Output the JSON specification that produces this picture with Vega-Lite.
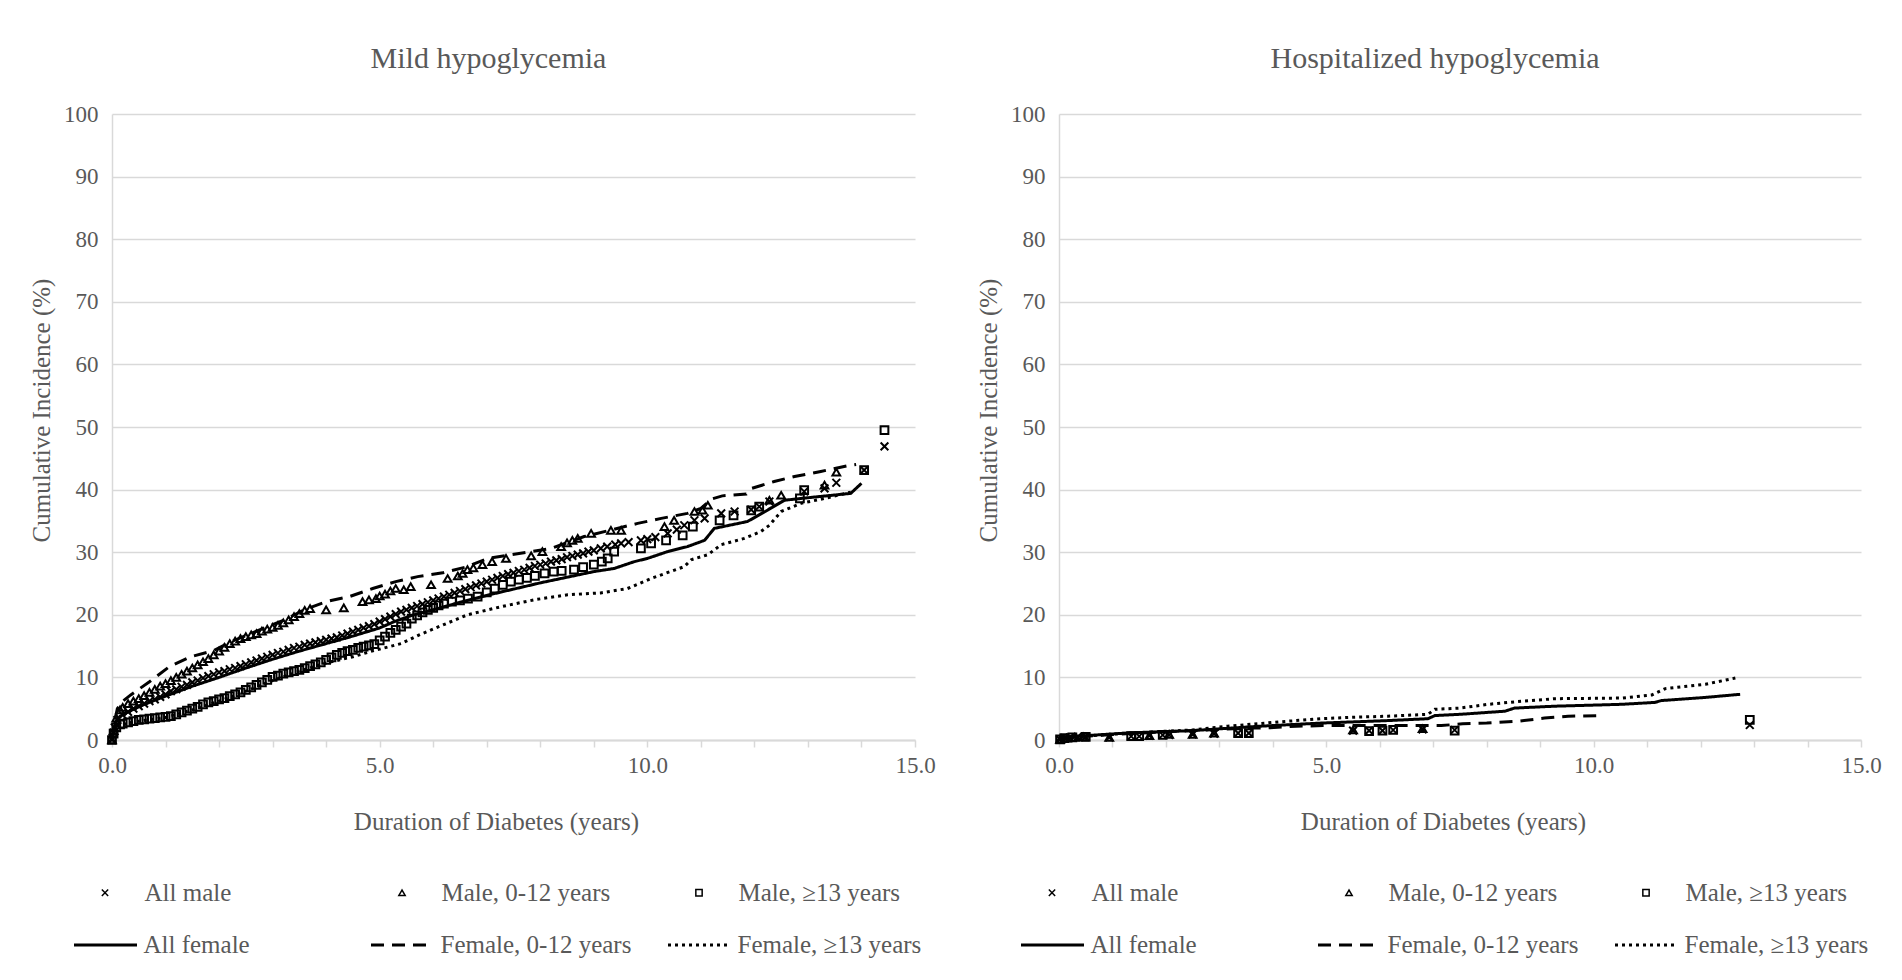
{
  "$schema": "https://vega.github.io/schema/vega-lite/v6.json",
  "background": "white",
  "padding": {"left": 29, "top": 43, "right": 5, "bottom": 0},
  "spacing": 40,
  "resolve": {
    "scale": {"shape": "independent", "strokeDash": "independent"},
    "legend": {"shape": "independent", "strokeDash": "independent"}
  },
  "config": {
    "font": "Liberation Serif",
    "view": {"stroke": null},
    "style": {"guide-label": {"font": "Liberation Serif"}, "guide-title": {"font": "Liberation Serif"}},
    "title": {"font": "Liberation Serif", "fontSize": 30, "fontWeight": "normal", "color": "#595959", "offset": 29.5, "dx": -25},
    "axis": {
      "labelFont": "Liberation Serif", "titleFont": "Liberation Serif",
      "labelColor": "#595959", "titleColor": "#595959", "titleFontWeight": "normal",
      "labelFontSize": 23, "titleFontSize": 25,
      "domainColor": "#d9d9d9", "gridColor": "#d9d9d9", "tickColor": "#d9d9d9"
    },
    "legend": {"labelFont": "Liberation Serif", "labelFontSize": 25, "labelColor": "#595959", "padding": 0, "labelLimit": 400}
  },
  "datasets": {
    "mildMale": [
      {"series":"All male","years":0,"pct":0},{"series":"All male","years":0.03,"pct":1.2},{"series":"All male","years":0.05,"pct":2.0},{"series":"All male","years":0.1,"pct":3.2},{"series":"All male","years":0.2,"pct":4.0},{"series":"All male","years":0.3,"pct":4.5},{"series":"All male","years":0.4,"pct":5.0},{"series":"All male","years":0.5,"pct":5.4},{"series":"All male","years":0.6,"pct":5.8},{"series":"All male","years":0.7,"pct":6.2},{"series":"All male","years":0.8,"pct":6.5},{"series":"All male","years":0.9,"pct":6.9},{"series":"All male","years":1.0,"pct":7.3},{"series":"All male","years":1.1,"pct":7.8},{"series":"All male","years":1.2,"pct":8.1},{"series":"All male","years":1.3,"pct":8.5},{"series":"All male","years":1.4,"pct":8.8},{"series":"All male","years":1.5,"pct":9.2},{"series":"All male","years":1.6,"pct":9.5},{"series":"All male","years":1.7,"pct":9.9},{"series":"All male","years":1.8,"pct":10.2},{"series":"All male","years":1.9,"pct":10.5},{"series":"All male","years":2.0,"pct":10.8},{"series":"All male","years":2.1,"pct":11.0},{"series":"All male","years":2.2,"pct":11.3},{"series":"All male","years":2.3,"pct":11.5},{"series":"All male","years":2.4,"pct":11.8},{"series":"All male","years":2.5,"pct":12.1},{"series":"All male","years":2.6,"pct":12.4},{"series":"All male","years":2.7,"pct":12.7},{"series":"All male","years":2.8,"pct":13.0},{"series":"All male","years":2.9,"pct":13.3},{"series":"All male","years":3.0,"pct":13.6},{"series":"All male","years":3.1,"pct":13.9},{"series":"All male","years":3.2,"pct":14.1},{"series":"All male","years":3.3,"pct":14.4},{"series":"All male","years":3.4,"pct":14.7},{"series":"All male","years":3.5,"pct":14.9},{"series":"All male","years":3.6,"pct":15.2},{"series":"All male","years":3.7,"pct":15.4},{"series":"All male","years":3.8,"pct":15.6},{"series":"All male","years":3.9,"pct":15.8},{"series":"All male","years":4.0,"pct":16.0},{"series":"All male","years":4.1,"pct":16.2},{"series":"All male","years":4.2,"pct":16.4},{"series":"All male","years":4.3,"pct":16.7},{"series":"All male","years":4.4,"pct":17.0},{"series":"All male","years":4.5,"pct":17.3},{"series":"All male","years":4.6,"pct":17.6},{"series":"All male","years":4.7,"pct":17.9},{"series":"All male","years":4.8,"pct":18.2},{"series":"All male","years":4.9,"pct":18.5},{"series":"All male","years":5.0,"pct":18.9},{"series":"All male","years":5.1,"pct":19.3},{"series":"All male","years":5.2,"pct":19.7},{"series":"All male","years":5.3,"pct":20.1},{"series":"All male","years":5.4,"pct":20.5},{"series":"All male","years":5.5,"pct":20.8},{"series":"All male","years":5.6,"pct":21.1},{"series":"All male","years":5.7,"pct":21.4},{"series":"All male","years":5.8,"pct":21.7},{"series":"All male","years":5.9,"pct":22.0},{"series":"All male","years":6.0,"pct":22.3},{"series":"All male","years":6.1,"pct":22.6},{"series":"All male","years":6.2,"pct":22.9},{"series":"All male","years":6.3,"pct":23.2},{"series":"All male","years":6.4,"pct":23.5},{"series":"All male","years":6.5,"pct":23.8},{"series":"All male","years":6.6,"pct":24.1},{"series":"All male","years":6.7,"pct":24.4},{"series":"All male","years":6.8,"pct":24.7},{"series":"All male","years":6.9,"pct":25.0},{"series":"All male","years":7.0,"pct":25.3},{"series":"All male","years":7.1,"pct":25.6},{"series":"All male","years":7.2,"pct":25.9},{"series":"All male","years":7.3,"pct":26.2},{"series":"All male","years":7.4,"pct":26.5},{"series":"All male","years":7.5,"pct":26.7},{"series":"All male","years":7.6,"pct":27.0},{"series":"All male","years":7.7,"pct":27.2},{"series":"All male","years":7.8,"pct":27.5},{"series":"All male","years":7.9,"pct":27.8},{"series":"All male","years":8.0,"pct":28.0},{"series":"All male","years":8.1,"pct":28.2},{"series":"All male","years":8.2,"pct":28.5},{"series":"All male","years":8.3,"pct":28.7},{"series":"All male","years":8.4,"pct":28.9},{"series":"All male","years":8.5,"pct":29.2},{"series":"All male","years":8.6,"pct":29.4},{"series":"All male","years":8.7,"pct":29.6},{"series":"All male","years":8.8,"pct":29.8},{"series":"All male","years":8.9,"pct":30.1},{"series":"All male","years":9.0,"pct":30.3},{"series":"All male","years":9.13,"pct":30.6},{"series":"All male","years":9.25,"pct":30.9},{"series":"All male","years":9.4,"pct":31.2},{"series":"All male","years":9.51,"pct":31.4},{"series":"All male","years":9.65,"pct":31.6},{"series":"All male","years":9.88,"pct":31.9},{"series":"All male","years":10.0,"pct":32.1},{"series":"All male","years":10.15,"pct":32.4},{"series":"All male","years":10.38,"pct":33.0},{"series":"All male","years":10.55,"pct":33.6},{"series":"All male","years":10.69,"pct":34.3},{"series":"All male","years":10.88,"pct":35.1},{"series":"All male","years":11.07,"pct":35.4},{"series":"All male","years":11.38,"pct":36.2},{"series":"All male","years":11.63,"pct":36.5},{"series":"All male","years":11.94,"pct":36.8},{"series":"All male","years":12.09,"pct":37.3},{"series":"All male","years":12.28,"pct":38.1},{"series":"All male","years":12.93,"pct":39.7},{"series":"All male","years":13.31,"pct":40.2},{"series":"All male","years":13.53,"pct":41.1},{"series":"All male","years":14.05,"pct":43.1},{"series":"All male","years":14.43,"pct":46.9},
      {"series":"Male, 0-12 years","years":0,"pct":0},{"series":"Male, 0-12 years","years":0.03,"pct":1.5},{"series":"Male, 0-12 years","years":0.08,"pct":3.5},{"series":"Male, 0-12 years","years":0.15,"pct":4.8},{"series":"Male, 0-12 years","years":0.2,"pct":5.2},{"series":"Male, 0-12 years","years":0.3,"pct":5.8},{"series":"Male, 0-12 years","years":0.4,"pct":6.2},{"series":"Male, 0-12 years","years":0.5,"pct":6.6},{"series":"Male, 0-12 years","years":0.6,"pct":7.1},{"series":"Male, 0-12 years","years":0.7,"pct":7.6},{"series":"Male, 0-12 years","years":0.8,"pct":8.1},{"series":"Male, 0-12 years","years":0.9,"pct":8.6},{"series":"Male, 0-12 years","years":1.0,"pct":9.0},{"series":"Male, 0-12 years","years":1.1,"pct":9.5},{"series":"Male, 0-12 years","years":1.2,"pct":10.0},{"series":"Male, 0-12 years","years":1.3,"pct":10.5},{"series":"Male, 0-12 years","years":1.4,"pct":11.0},{"series":"Male, 0-12 years","years":1.5,"pct":11.5},{"series":"Male, 0-12 years","years":1.6,"pct":12.0},{"series":"Male, 0-12 years","years":1.7,"pct":12.5},{"series":"Male, 0-12 years","years":1.8,"pct":13.0},{"series":"Male, 0-12 years","years":1.9,"pct":13.6},{"series":"Male, 0-12 years","years":2.0,"pct":14.2},{"series":"Male, 0-12 years","years":2.1,"pct":14.8},{"series":"Male, 0-12 years","years":2.2,"pct":15.4},{"series":"Male, 0-12 years","years":2.3,"pct":15.8},{"series":"Male, 0-12 years","years":2.4,"pct":16.2},{"series":"Male, 0-12 years","years":2.5,"pct":16.5},{"series":"Male, 0-12 years","years":2.6,"pct":16.8},{"series":"Male, 0-12 years","years":2.7,"pct":17.0},{"series":"Male, 0-12 years","years":2.8,"pct":17.4},{"series":"Male, 0-12 years","years":2.9,"pct":17.7},{"series":"Male, 0-12 years","years":3.0,"pct":18.0},{"series":"Male, 0-12 years","years":3.1,"pct":18.3},{"series":"Male, 0-12 years","years":3.2,"pct":18.7},{"series":"Male, 0-12 years","years":3.3,"pct":19.2},{"series":"Male, 0-12 years","years":3.4,"pct":19.7},{"series":"Male, 0-12 years","years":3.5,"pct":20.2},{"series":"Male, 0-12 years","years":3.6,"pct":20.7},{"series":"Male, 0-12 years","years":3.7,"pct":21.0},{"series":"Male, 0-12 years","years":4.0,"pct":20.8},{"series":"Male, 0-12 years","years":4.33,"pct":21.1},{"series":"Male, 0-12 years","years":4.68,"pct":22.1},{"series":"Male, 0-12 years","years":4.8,"pct":22.4},{"series":"Male, 0-12 years","years":4.93,"pct":22.6},{"series":"Male, 0-12 years","years":5.0,"pct":23.0},{"series":"Male, 0-12 years","years":5.1,"pct":23.3},{"series":"Male, 0-12 years","years":5.2,"pct":23.8},{"series":"Male, 0-12 years","years":5.3,"pct":24.2},{"series":"Male, 0-12 years","years":5.45,"pct":24.0},{"series":"Male, 0-12 years","years":5.58,"pct":24.5},{"series":"Male, 0-12 years","years":5.96,"pct":24.8},{"series":"Male, 0-12 years","years":6.27,"pct":25.8},{"series":"Male, 0-12 years","years":6.46,"pct":26.2},{"series":"Male, 0-12 years","years":6.55,"pct":26.6},{"series":"Male, 0-12 years","years":6.64,"pct":27.2},{"series":"Male, 0-12 years","years":6.75,"pct":27.5},{"series":"Male, 0-12 years","years":6.92,"pct":28.0},{"series":"Male, 0-12 years","years":7.1,"pct":28.5},{"series":"Male, 0-12 years","years":7.36,"pct":29.0},{"series":"Male, 0-12 years","years":7.83,"pct":29.4},{"series":"Male, 0-12 years","years":8.04,"pct":30.1},{"series":"Male, 0-12 years","years":8.39,"pct":30.9},{"series":"Male, 0-12 years","years":8.5,"pct":31.5},{"series":"Male, 0-12 years","years":8.6,"pct":31.9},{"series":"Male, 0-12 years","years":8.7,"pct":32.2},{"series":"Male, 0-12 years","years":8.95,"pct":33.0},{"series":"Male, 0-12 years","years":9.32,"pct":33.5},{"series":"Male, 0-12 years","years":9.51,"pct":33.5},{"series":"Male, 0-12 years","years":10.32,"pct":34.1},{"series":"Male, 0-12 years","years":10.5,"pct":35.1},{"series":"Male, 0-12 years","years":10.88,"pct":36.5},{"series":"Male, 0-12 years","years":11.03,"pct":36.7},{"series":"Male, 0-12 years","years":11.13,"pct":37.5},{"series":"Male, 0-12 years","years":12.28,"pct":38.3},{"series":"Male, 0-12 years","years":12.5,"pct":39.1},{"series":"Male, 0-12 years","years":13.31,"pct":40.7},{"series":"Male, 0-12 years","years":13.53,"pct":42.8},
      {"series":"Male, ≥13 years","years":0,"pct":0},{"series":"Male, ≥13 years","years":0.03,"pct":1.0},{"series":"Male, ≥13 years","years":0.08,"pct":2.0},{"series":"Male, ≥13 years","years":0.15,"pct":2.5},{"series":"Male, ≥13 years","years":0.2,"pct":2.6},{"series":"Male, ≥13 years","years":0.3,"pct":2.8},{"series":"Male, ≥13 years","years":0.4,"pct":3.0},{"series":"Male, ≥13 years","years":0.5,"pct":3.2},{"series":"Male, ≥13 years","years":0.6,"pct":3.3},{"series":"Male, ≥13 years","years":0.7,"pct":3.4},{"series":"Male, ≥13 years","years":0.8,"pct":3.5},{"series":"Male, ≥13 years","years":0.9,"pct":3.6},{"series":"Male, ≥13 years","years":1.0,"pct":3.7},{"series":"Male, ≥13 years","years":1.1,"pct":3.8},{"series":"Male, ≥13 years","years":1.2,"pct":4.1},{"series":"Male, ≥13 years","years":1.3,"pct":4.4},{"series":"Male, ≥13 years","years":1.4,"pct":4.7},{"series":"Male, ≥13 years","years":1.5,"pct":5.0},{"series":"Male, ≥13 years","years":1.6,"pct":5.3},{"series":"Male, ≥13 years","years":1.7,"pct":5.7},{"series":"Male, ≥13 years","years":1.8,"pct":6.0},{"series":"Male, ≥13 years","years":1.9,"pct":6.2},{"series":"Male, ≥13 years","years":2.0,"pct":6.5},{"series":"Male, ≥13 years","years":2.1,"pct":6.7},{"series":"Male, ≥13 years","years":2.2,"pct":7.0},{"series":"Male, ≥13 years","years":2.3,"pct":7.3},{"series":"Male, ≥13 years","years":2.4,"pct":7.6},{"series":"Male, ≥13 years","years":2.5,"pct":8.0},{"series":"Male, ≥13 years","years":2.6,"pct":8.4},{"series":"Male, ≥13 years","years":2.7,"pct":8.8},{"series":"Male, ≥13 years","years":2.8,"pct":9.2},{"series":"Male, ≥13 years","years":2.9,"pct":9.6},{"series":"Male, ≥13 years","years":3.0,"pct":10.1},{"series":"Male, ≥13 years","years":3.1,"pct":10.3},{"series":"Male, ≥13 years","years":3.2,"pct":10.6},{"series":"Male, ≥13 years","years":3.3,"pct":10.8},{"series":"Male, ≥13 years","years":3.4,"pct":11.0},{"series":"Male, ≥13 years","years":3.5,"pct":11.2},{"series":"Male, ≥13 years","years":3.6,"pct":11.5},{"series":"Male, ≥13 years","years":3.7,"pct":11.8},{"series":"Male, ≥13 years","years":3.8,"pct":12.1},{"series":"Male, ≥13 years","years":3.9,"pct":12.4},{"series":"Male, ≥13 years","years":4.0,"pct":12.8},{"series":"Male, ≥13 years","years":4.1,"pct":13.2},{"series":"Male, ≥13 years","years":4.2,"pct":13.6},{"series":"Male, ≥13 years","years":4.3,"pct":13.9},{"series":"Male, ≥13 years","years":4.4,"pct":14.2},{"series":"Male, ≥13 years","years":4.5,"pct":14.4},{"series":"Male, ≥13 years","years":4.6,"pct":14.7},{"series":"Male, ≥13 years","years":4.7,"pct":14.9},{"series":"Male, ≥13 years","years":4.8,"pct":15.1},{"series":"Male, ≥13 years","years":4.9,"pct":15.3},{"series":"Male, ≥13 years","years":5.0,"pct":15.9},{"series":"Male, ≥13 years","years":5.1,"pct":16.5},{"series":"Male, ≥13 years","years":5.2,"pct":17.1},{"series":"Male, ≥13 years","years":5.3,"pct":17.6},{"series":"Male, ≥13 years","years":5.4,"pct":18.1},{"series":"Male, ≥13 years","years":5.5,"pct":18.6},{"series":"Male, ≥13 years","years":5.6,"pct":19.4},{"series":"Male, ≥13 years","years":5.7,"pct":19.9},{"series":"Male, ≥13 years","years":5.8,"pct":20.4},{"series":"Male, ≥13 years","years":5.9,"pct":20.8},{"series":"Male, ≥13 years","years":6.0,"pct":21.1},{"series":"Male, ≥13 years","years":6.1,"pct":21.5},{"series":"Male, ≥13 years","years":6.2,"pct":21.8},{"series":"Male, ≥13 years","years":6.35,"pct":22.1},{"series":"Male, ≥13 years","years":6.5,"pct":22.3},{"series":"Male, ≥13 years","years":6.65,"pct":22.6},{"series":"Male, ≥13 years","years":6.83,"pct":22.9},{"series":"Male, ≥13 years","years":7.0,"pct":23.6},{"series":"Male, ≥13 years","years":7.15,"pct":24.2},{"series":"Male, ≥13 years","years":7.3,"pct":24.8},{"series":"Male, ≥13 years","years":7.45,"pct":25.3},{"series":"Male, ≥13 years","years":7.6,"pct":25.6},{"series":"Male, ≥13 years","years":7.75,"pct":25.9},{"series":"Male, ≥13 years","years":7.9,"pct":26.2},{"series":"Male, ≥13 years","years":8.08,"pct":26.6},{"series":"Male, ≥13 years","years":8.25,"pct":26.9},{"series":"Male, ≥13 years","years":8.4,"pct":27.0},{"series":"Male, ≥13 years","years":8.63,"pct":27.2},{"series":"Male, ≥13 years","years":8.8,"pct":27.6},{"series":"Male, ≥13 years","years":9.0,"pct":28.0},{"series":"Male, ≥13 years","years":9.15,"pct":28.5},{"series":"Male, ≥13 years","years":9.26,"pct":29.0},{"series":"Male, ≥13 years","years":9.38,"pct":30.1},{"series":"Male, ≥13 years","years":9.88,"pct":30.6},{"series":"Male, ≥13 years","years":10.07,"pct":31.4},{"series":"Male, ≥13 years","years":10.35,"pct":31.9},{"series":"Male, ≥13 years","years":10.66,"pct":32.7},{"series":"Male, ≥13 years","years":10.85,"pct":34.1},{"series":"Male, ≥13 years","years":11.35,"pct":35.1},{"series":"Male, ≥13 years","years":11.61,"pct":35.9},{"series":"Male, ≥13 years","years":11.94,"pct":36.7},{"series":"Male, ≥13 years","years":12.09,"pct":37.3},{"series":"Male, ≥13 years","years":12.85,"pct":38.6},{"series":"Male, ≥13 years","years":12.93,"pct":39.9},{"series":"Male, ≥13 years","years":14.05,"pct":43.1},{"series":"Male, ≥13 years","years":14.43,"pct":49.5}
    ],
    "mildFemale": [
      {"series":"All female","years":0,"pct":0},{"series":"All female","years":0.03,"pct":1.5},{"series":"All female","years":0.08,"pct":3.0},{"series":"All female","years":0.15,"pct":3.8},{"series":"All female","years":0.3,"pct":4.5},{"series":"All female","years":0.5,"pct":5.3},{"series":"All female","years":0.75,"pct":6.2},{"series":"All female","years":1.0,"pct":7.0},{"series":"All female","years":1.5,"pct":8.6},{"series":"All female","years":2.0,"pct":10.0},{"series":"All female","years":2.5,"pct":11.5},{"series":"All female","years":3.0,"pct":12.9},{"series":"All female","years":3.5,"pct":14.2},{"series":"All female","years":4.0,"pct":15.4},{"series":"All female","years":4.5,"pct":16.6},{"series":"All female","years":5.0,"pct":17.9},{"series":"All female","years":5.3,"pct":19.0},{"series":"All female","years":5.6,"pct":19.9},{"series":"All female","years":6.0,"pct":20.8},{"series":"All female","years":6.5,"pct":22.0},{"series":"All female","years":7.0,"pct":23.1},{"series":"All female","years":7.5,"pct":24.1},{"series":"All female","years":8.0,"pct":25.1},{"series":"All female","years":8.5,"pct":26.0},{"series":"All female","years":9.0,"pct":26.9},{"series":"All female","years":9.38,"pct":27.4},{"series":"All female","years":9.76,"pct":28.5},{"series":"All female","years":10.0,"pct":29.0},{"series":"All female","years":10.38,"pct":30.1},{"series":"All female","years":10.75,"pct":30.9},{"series":"All female","years":11.07,"pct":31.9},{"series":"All female","years":11.25,"pct":33.8},{"series":"All female","years":11.87,"pct":34.9},{"series":"All female","years":12.2,"pct":36.5},{"series":"All female","years":12.56,"pct":38.3},{"series":"All female","years":13.0,"pct":38.7},{"series":"All female","years":13.8,"pct":39.4},{"series":"All female","years":14.0,"pct":41.0},
      {"series":"Female, 0-12 years","years":0,"pct":0},{"series":"Female, 0-12 years","years":0.05,"pct":3.0},{"series":"Female, 0-12 years","years":0.1,"pct":5.0},{"series":"Female, 0-12 years","years":0.2,"pct":6.2},{"series":"Female, 0-12 years","years":0.35,"pct":7.2},{"series":"Female, 0-12 years","years":0.7,"pct":9.3},{"series":"Female, 0-12 years","years":1.07,"pct":11.7},{"series":"Female, 0-12 years","years":1.47,"pct":13.3},{"series":"Female, 0-12 years","years":1.9,"pct":14.3},{"series":"Female, 0-12 years","years":2.25,"pct":15.8},{"series":"Female, 0-12 years","years":2.7,"pct":17.4},{"series":"Female, 0-12 years","years":3.2,"pct":19.1},{"series":"Female, 0-12 years","years":3.62,"pct":20.9},{"series":"Female, 0-12 years","years":4.0,"pct":22.1},{"series":"Female, 0-12 years","years":4.43,"pct":22.9},{"series":"Female, 0-12 years","years":4.87,"pct":24.2},{"series":"Female, 0-12 years","years":5.3,"pct":25.3},{"series":"Female, 0-12 years","years":5.71,"pct":26.1},{"series":"Female, 0-12 years","years":6.18,"pct":26.7},{"series":"Female, 0-12 years","years":6.6,"pct":27.6},{"series":"Female, 0-12 years","years":7.02,"pct":29.0},{"series":"Female, 0-12 years","years":7.45,"pct":29.6},{"series":"Female, 0-12 years","years":8.2,"pct":30.6},{"series":"Female, 0-12 years","years":8.82,"pct":32.5},{"series":"Female, 0-12 years","years":9.82,"pct":34.6},{"series":"Female, 0-12 years","years":10.26,"pct":35.4},{"series":"Female, 0-12 years","years":10.75,"pct":36.2},{"series":"Female, 0-12 years","years":11.0,"pct":37.0},{"series":"Female, 0-12 years","years":11.2,"pct":38.5},{"series":"Female, 0-12 years","years":11.4,"pct":39.0},{"series":"Female, 0-12 years","years":11.85,"pct":39.3},{"series":"Female, 0-12 years","years":11.95,"pct":40.2},{"series":"Female, 0-12 years","years":12.37,"pct":41.3},{"series":"Female, 0-12 years","years":12.75,"pct":42.1},{"series":"Female, 0-12 years","years":13.24,"pct":42.9},{"series":"Female, 0-12 years","years":13.74,"pct":43.8},{"series":"Female, 0-12 years","years":13.9,"pct":44.0},
      {"series":"Female, ≥13 years","years":0,"pct":0},{"series":"Female, ≥13 years","years":0.05,"pct":1.5},{"series":"Female, ≥13 years","years":0.1,"pct":2.2},{"series":"Female, ≥13 years","years":0.3,"pct":2.7},{"series":"Female, ≥13 years","years":0.5,"pct":3.0},{"series":"Female, ≥13 years","years":1.0,"pct":3.6},{"series":"Female, ≥13 years","years":1.5,"pct":4.8},{"series":"Female, ≥13 years","years":2.0,"pct":6.2},{"series":"Female, ≥13 years","years":2.5,"pct":7.8},{"series":"Female, ≥13 years","years":3.0,"pct":9.5},{"series":"Female, ≥13 years","years":3.5,"pct":11.0},{"series":"Female, ≥13 years","years":4.0,"pct":12.3},{"series":"Female, ≥13 years","years":4.5,"pct":13.3},{"series":"Female, ≥13 years","years":4.81,"pct":14.1},{"series":"Female, ≥13 years","years":5.4,"pct":15.4},{"series":"Female, ≥13 years","years":5.74,"pct":16.8},{"series":"Female, ≥13 years","years":6.02,"pct":17.8},{"series":"Female, ≥13 years","years":6.64,"pct":20.0},{"series":"Female, ≥13 years","years":7.27,"pct":21.3},{"series":"Female, ≥13 years","years":7.89,"pct":22.4},{"series":"Female, ≥13 years","years":8.51,"pct":23.2},{"series":"Female, ≥13 years","years":9.13,"pct":23.5},{"series":"Female, ≥13 years","years":9.63,"pct":24.2},{"series":"Female, ≥13 years","years":10.07,"pct":25.8},{"series":"Female, ≥13 years","years":10.69,"pct":27.7},{"series":"Female, ≥13 years","years":10.82,"pct":28.8},{"series":"Female, ≥13 years","years":11.13,"pct":29.6},{"series":"Female, ≥13 years","years":11.38,"pct":31.2},{"series":"Female, ≥13 years","years":11.81,"pct":32.2},{"series":"Female, ≥13 years","years":12.12,"pct":33.3},{"series":"Female, ≥13 years","years":12.28,"pct":34.3},{"series":"Female, ≥13 years","years":12.5,"pct":36.5},{"series":"Female, ≥13 years","years":12.87,"pct":37.8},{"series":"Female, ≥13 years","years":13.37,"pct":38.7},{"series":"Female, ≥13 years","years":13.8,"pct":39.6}
    ],
    "hospMale": [
      {"series":"All male","years":0.02,"pct":0.1},{"series":"All male","years":0.1,"pct":0.3},{"series":"All male","years":0.2,"pct":0.4},{"series":"All male","years":0.35,"pct":0.5},{"series":"All male","years":0.5,"pct":0.5},{"series":"All male","years":0.94,"pct":0.4},{"series":"All male","years":1.35,"pct":0.6},{"series":"All male","years":1.5,"pct":0.6},{"series":"All male","years":1.69,"pct":0.7},{"series":"All male","years":1.94,"pct":0.8},{"series":"All male","years":2.06,"pct":0.8},{"series":"All male","years":2.5,"pct":0.9},{"series":"All male","years":2.9,"pct":1.0},{"series":"All male","years":3.35,"pct":1.1},{"series":"All male","years":3.55,"pct":1.1},{"series":"All male","years":5.5,"pct":1.5},{"series":"All male","years":5.8,"pct":1.5},{"series":"All male","years":6.05,"pct":1.5},{"series":"All male","years":6.25,"pct":1.6},{"series":"All male","years":6.8,"pct":1.7},{"series":"All male","years":7.4,"pct":1.6},{"series":"All male","years":12.92,"pct":2.4},
      {"series":"Male, 0-12 years","years":0.02,"pct":0.1},{"series":"Male, 0-12 years","years":0.15,"pct":0.3},{"series":"Male, 0-12 years","years":0.3,"pct":0.4},{"series":"Male, 0-12 years","years":0.45,"pct":0.5},{"series":"Male, 0-12 years","years":0.94,"pct":0.4},{"series":"Male, 0-12 years","years":1.69,"pct":0.7},{"series":"Male, 0-12 years","years":2.06,"pct":0.9},{"series":"Male, 0-12 years","years":2.5,"pct":0.9},{"series":"Male, 0-12 years","years":2.9,"pct":1.1},{"series":"Male, 0-12 years","years":5.5,"pct":1.6},{"series":"Male, 0-12 years","years":6.8,"pct":1.8},
      {"series":"Male, ≥13 years","years":0.02,"pct":0.1},{"series":"Male, ≥13 years","years":0.1,"pct":0.3},{"series":"Male, ≥13 years","years":0.25,"pct":0.4},{"series":"Male, ≥13 years","years":0.5,"pct":0.5},{"series":"Male, ≥13 years","years":1.35,"pct":0.6},{"series":"Male, ≥13 years","years":1.5,"pct":0.6},{"series":"Male, ≥13 years","years":1.94,"pct":0.8},{"series":"Male, ≥13 years","years":3.35,"pct":1.1},{"series":"Male, ≥13 years","years":3.55,"pct":1.1},{"series":"Male, ≥13 years","years":5.8,"pct":1.4},{"series":"Male, ≥13 years","years":6.05,"pct":1.5},{"series":"Male, ≥13 years","years":6.25,"pct":1.6},{"series":"Male, ≥13 years","years":7.4,"pct":1.5},{"series":"Male, ≥13 years","years":12.92,"pct":3.2}
    ],
    "hospFemale": [
      {"series":"All female","years":0,"pct":0.2},{"series":"All female","years":0.05,"pct":0.5},{"series":"All female","years":0.5,"pct":0.7},{"series":"All female","years":1.25,"pct":1.1},{"series":"All female","years":2.5,"pct":1.5},{"series":"All female","years":3.75,"pct":2.2},{"series":"All female","years":4.9,"pct":2.7},{"series":"All female","years":6.15,"pct":3.1},{"series":"All female","years":6.9,"pct":3.4},{"series":"All female","years":7.03,"pct":3.9},{"series":"All female","years":7.5,"pct":4.1},{"series":"All female","years":8.34,"pct":4.6},{"series":"All female","years":8.52,"pct":5.1},{"series":"All female","years":9.27,"pct":5.4},{"series":"All female","years":10.52,"pct":5.7},{"series":"All female","years":11.14,"pct":6.0},{"series":"All female","years":11.27,"pct":6.3},{"series":"All female","years":12.09,"pct":6.8},{"series":"All female","years":12.74,"pct":7.3},
      {"series":"Female, 0-12 years","years":0,"pct":0.2},{"series":"Female, 0-12 years","years":0.5,"pct":0.6},{"series":"Female, 0-12 years","years":1.25,"pct":1.0},{"series":"Female, 0-12 years","years":2.5,"pct":1.5},{"series":"Female, 0-12 years","years":3.5,"pct":1.9},{"series":"Female, 0-12 years","years":3.94,"pct":1.95},{"series":"Female, 0-12 years","years":4.44,"pct":2.2},{"series":"Female, 0-12 years","years":4.94,"pct":2.3},{"series":"Female, 0-12 years","years":7.15,"pct":2.3},{"series":"Female, 0-12 years","years":7.55,"pct":2.6},{"series":"Female, 0-12 years","years":8.0,"pct":2.7},{"series":"Female, 0-12 years","years":8.58,"pct":3.0},{"series":"Female, 0-12 years","years":9.08,"pct":3.5},{"series":"Female, 0-12 years","years":9.52,"pct":3.8},{"series":"Female, 0-12 years","years":10.1,"pct":3.9},
      {"series":"Female, ≥13 years","years":0,"pct":0.2},{"series":"Female, ≥13 years","years":0.5,"pct":0.6},{"series":"Female, ≥13 years","years":1.25,"pct":1.1},{"series":"Female, ≥13 years","years":2.5,"pct":1.6},{"series":"Female, ≥13 years","years":3.15,"pct":2.2},{"series":"Female, ≥13 years","years":4.28,"pct":3.0},{"series":"Female, ≥13 years","years":4.9,"pct":3.4},{"series":"Female, ≥13 years","years":5.53,"pct":3.65},{"series":"Female, ≥13 years","years":6.15,"pct":3.8},{"series":"Female, ≥13 years","years":6.9,"pct":4.1},{"series":"Female, ≥13 years","years":7.03,"pct":4.9},{"series":"Female, ≥13 years","years":7.5,"pct":5.1},{"series":"Female, ≥13 years","years":8.03,"pct":5.7},{"series":"Female, ≥13 years","years":8.66,"pct":6.2},{"series":"Female, ≥13 years","years":9.28,"pct":6.6},{"series":"Female, ≥13 years","years":10.53,"pct":6.7},{"series":"Female, ≥13 years","years":11.09,"pct":7.2},{"series":"Female, ≥13 years","years":11.34,"pct":8.2},{"series":"Female, ≥13 years","years":12.09,"pct":8.9},{"series":"Female, ≥13 years","years":12.65,"pct":9.9}
    ]
  },
  "hconcat": [
    {
      "title": "Mild hypoglycemia",
      "width": 803,
      "height": 626,
      "layer": [
        {
          "data": {"name": "mildMale"},
          "mark": {"type": "point", "filled": false, "color": "black", "strokeWidth": 2, "size": 60, "opacity": 1},
          "encoding": {
            "x": {"field": "years", "type": "quantitative", "scale": {"domain": [0, 15], "nice": false},
              "axis": {"title": "Duration of Diabetes (years)", "values": [0,0.5,1,1.5,2,2.5,3,3.5,4,4.5,5,5.5,6,6.5,7,7.5,8,8.5,9,9.5,10,10.5,11,11.5,12,12.5,13,13.5,14,14.5,15],
                "labelExpr": "datum.value % 2.5 === 0 ? format(datum.value, '.1f') : ''", "labelOverlap": false, "labelFlush": false,
                "labelFont": "Liberation Serif", "titleFont": "Liberation Serif", "titleX": 384,
                "grid": false, "tickSize": 7, "tickWidth": 1.5, "domainWidth": 2, "labelPadding": 7, "titlePadding": 32}},
            "y": {"field": "pct", "type": "quantitative", "scale": {"domain": [0, 100], "nice": false},
              "axis": {"title": "Cumulative Incidence (%)", "values": [0,10,20,30,40,50,60,70,80,90,100], "ticks": false, "gridWidth": 1.5, "domainWidth": 1.5, "labelPadding": 14, "titlePadding": 9, "titleY": 296,
                "labelFont": "Liberation Serif", "titleFont": "Liberation Serif"}},
            "shape": {"field": "series", "type": "nominal",
              "scale": {"domain": ["All male", "Male, 0-12 years", "Male, ≥13 years"], "range": ["M-1,-1L1,1M-1,1L1,-1", "triangle-up", "square"]},
              "legend": {"title": null, "orient": "none", "legendX": -19.5, "legendY": 766, "direction": "horizontal", "columns": 3, "gridAlign": "all", "columnPadding": 76,
                "symbolSize": 40, "symbolStrokeWidth": 1.5, "symbolStrokeColor": "black", "labelOffset": 27}}
          }
        },
        {
          "data": {"name": "mildFemale"},
          "mark": {"type": "line", "color": "black", "strokeWidth": 3},
          "encoding": {
            "x": {"field": "years", "type": "quantitative", "scale": {"domain": [0, 15], "nice": false}},
            "y": {"field": "pct", "type": "quantitative", "scale": {"domain": [0, 100], "nice": false}},
            "strokeDash": {"field": "series", "type": "nominal",
              "scale": {"domain": ["All female", "Female, 0-12 years", "Female, ≥13 years"], "range": [[1, 0], [13, 8], [3, 4]]},
              "legend": {"title": null, "orient": "none", "legendX": -39.5, "legendY": 798, "direction": "horizontal", "columns": 3, "gridAlign": "all", "columnPadding": 30,
                "symbolType": "stroke", "symbolSize": 3969, "symbolStrokeWidth": 3, "symbolStrokeColor": "black", "labelOffset": 5}}
          }
        }
      ]
    },
    {
      "title": "Hospitalized hypoglycemia",
      "width": 802,
      "height": 626,
      "layer": [
        {
          "data": {"name": "hospMale"},
          "mark": {"type": "point", "filled": false, "color": "black", "strokeWidth": 2, "size": 60, "opacity": 1},
          "encoding": {
            "x": {"field": "years", "type": "quantitative", "scale": {"domain": [0, 15], "nice": false},
              "axis": {"title": "Duration of Diabetes (years)", "values": [0,0.5,1,1.5,2,2.5,3,3.5,4,4.5,5,5.5,6,6.5,7,7.5,8,8.5,9,9.5,10,10.5,11,11.5,12,12.5,13,13.5,14,14.5,15],
                "labelExpr": "datum.value % 2.5 === 0 ? format(datum.value, '.1f') : ''", "labelOverlap": false, "labelFlush": false,
                "labelFont": "Liberation Serif", "titleFont": "Liberation Serif", "titleX": 384,
                "grid": false, "tickSize": 7, "tickWidth": 1.5, "domainWidth": 2, "labelPadding": 7, "titlePadding": 32}},
            "y": {"field": "pct", "type": "quantitative", "scale": {"domain": [0, 100], "nice": false},
              "axis": {"title": "Cumulative Incidence (%)", "values": [0,10,20,30,40,50,60,70,80,90,100], "ticks": false, "gridWidth": 1.5, "domainWidth": 1.5, "labelPadding": 14, "titlePadding": 9, "titleY": 296,
                "labelFont": "Liberation Serif", "titleFont": "Liberation Serif"}},
            "shape": {"field": "series", "type": "nominal",
              "scale": {"domain": ["All male", "Male, 0-12 years", "Male, ≥13 years"], "range": ["M-1,-1L1,1M-1,1L1,-1", "triangle-up", "square"]},
              "legend": {"title": null, "orient": "none", "legendX": -19.5, "legendY": 766, "direction": "horizontal", "columns": 3, "gridAlign": "all", "columnPadding": 76,
                "symbolSize": 40, "symbolStrokeWidth": 1.5, "symbolStrokeColor": "black", "labelOffset": 27}}
          }
        },
        {
          "data": {"name": "hospFemale"},
          "mark": {"type": "line", "color": "black", "strokeWidth": 3},
          "encoding": {
            "x": {"field": "years", "type": "quantitative", "scale": {"domain": [0, 15], "nice": false}},
            "y": {"field": "pct", "type": "quantitative", "scale": {"domain": [0, 100], "nice": false}},
            "strokeDash": {"field": "series", "type": "nominal",
              "scale": {"domain": ["All female", "Female, 0-12 years", "Female, ≥13 years"], "range": [[1, 0], [13, 8], [3, 4]]},
              "legend": {"title": null, "orient": "none", "legendX": -39.5, "legendY": 798, "direction": "horizontal", "columns": 3, "gridAlign": "all", "columnPadding": 30,
                "symbolType": "stroke", "symbolSize": 3969, "symbolStrokeWidth": 3, "symbolStrokeColor": "black", "labelOffset": 5}}
          }
        }
      ]
    }
  ]
}
